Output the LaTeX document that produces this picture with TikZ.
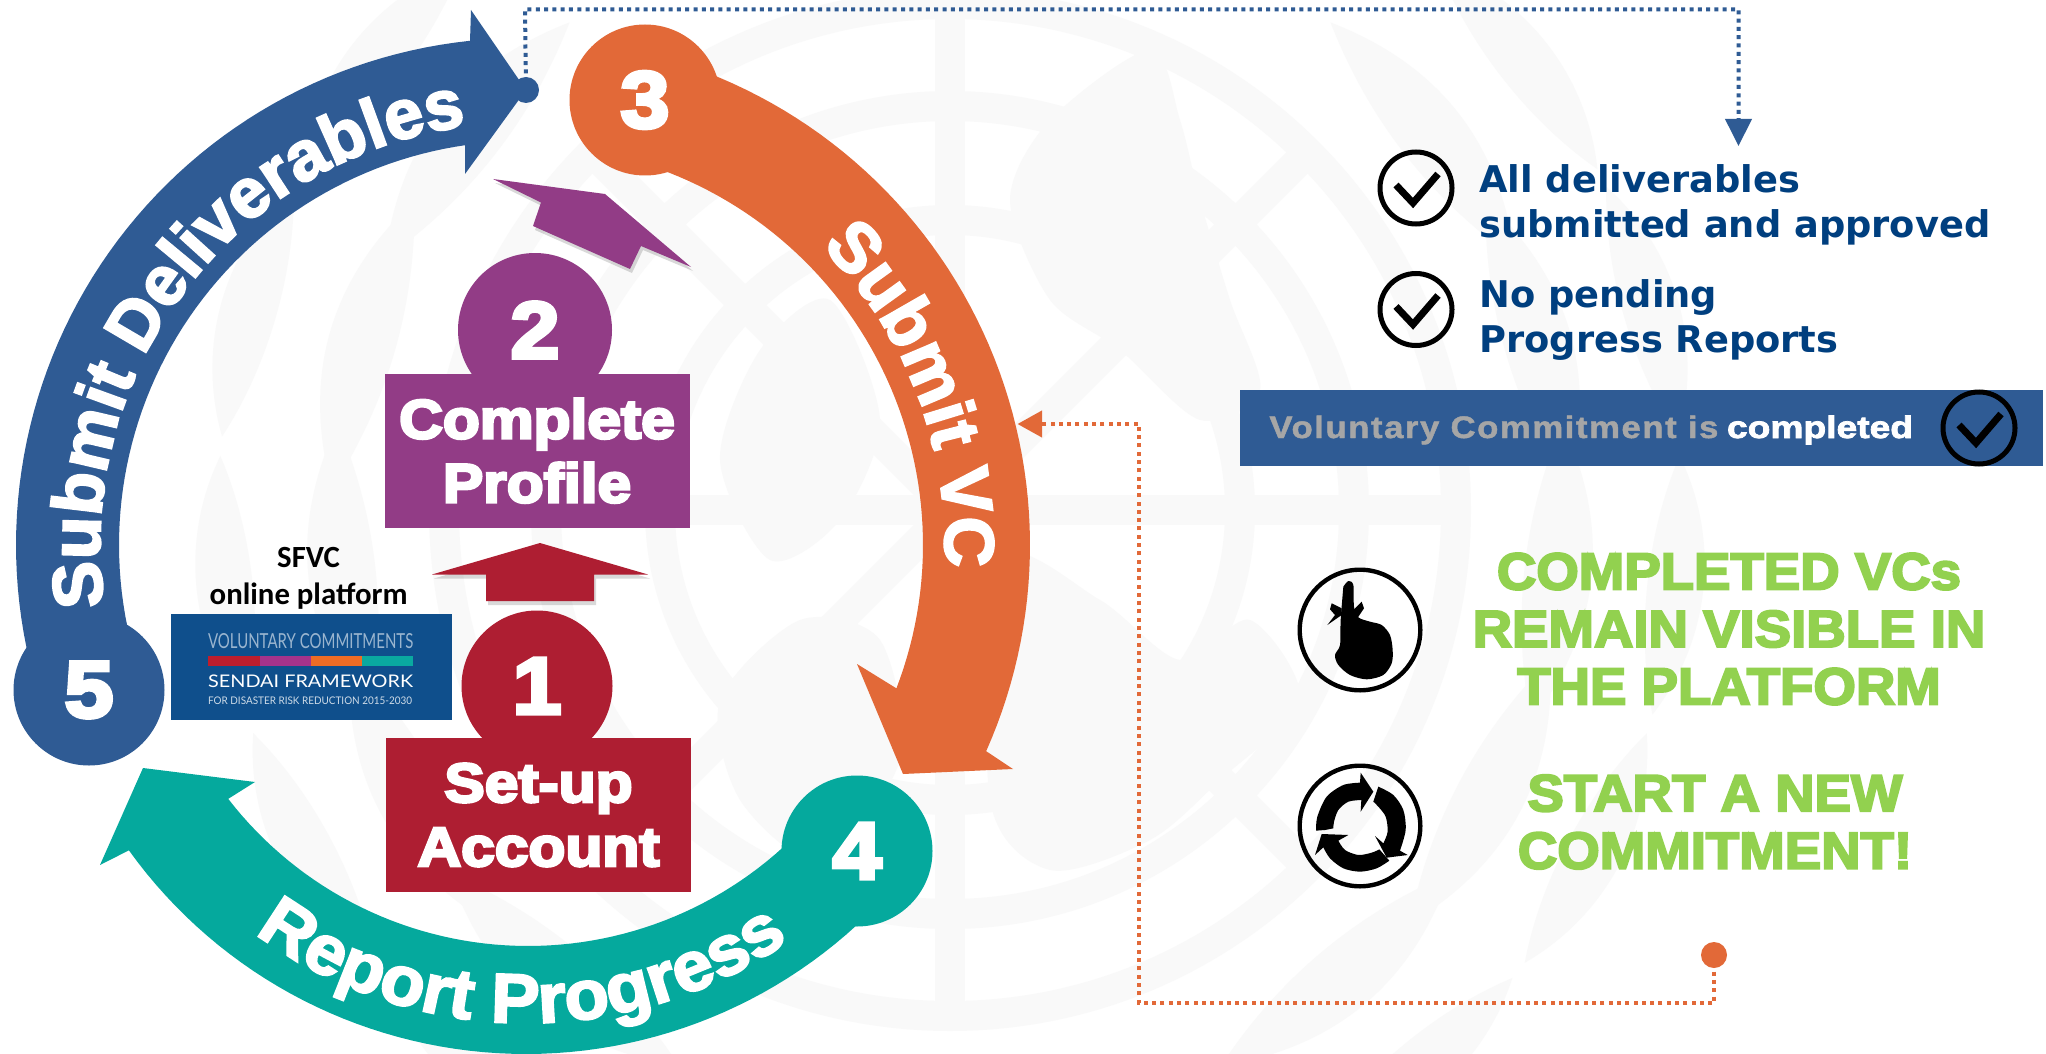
\documentclass[tikz,border=0pt]{standalone}
\usepackage{fontspec}
\usetikzlibrary{decorations.text,arrows.meta,shadows}
\setmainfont{Liberation Sans}
\newfontfamily\fatfont[BoldFeatures={FakeBold=5,FakeStretch=1.1}]{Liberation Sans}
\newfontfamily\arcfont[BoldFeatures={FakeBold=3}]{Liberation Sans}
\newfontfamily\arcwide[BoldFeatures={FakeBold=3,FakeStretch=1.04}]{Liberation Sans}
\newfontfamily\greenfont[BoldFeatures={FakeBold=4,FakeStretch=1.05}]{Liberation Sans}
\newfontfamily\grayfont[BoldFeatures={FakeBold=1.5,FakeStretch=1.12,LetterSpace=5}]{Liberation Sans}
\newfontfamily\compfont[BoldFeatures={FakeBold=2.5,FakeStretch=1.2}]{Liberation Sans}
\newfontfamily\dejafont{DejaVu Sans}
\newfontfamily\carfont{Carlito}
\newfontfamily\latofont{Lato}
\definecolor{bluec}{HTML}{2F5B94}
\definecolor{orangec}{HTML}{E26938}
\definecolor{tealc}{HTML}{05A99D}
\definecolor{redc}{HTML}{AE1E32}
\definecolor{purplec}{HTML}{923C86}
\definecolor{navyc}{HTML}{003F7F}
\definecolor{greenc}{HTML}{92D14F}
\definecolor{grayc}{HTML}{A6A6A6}
\definecolor{wmc}{HTML}{F9F9F9}
\definecolor{logoc}{HTML}{0F4F8C}
\definecolor{stripea}{HTML}{BE1E2D}
\definecolor{stripeb}{HTML}{A6338B}
\definecolor{stripec}{HTML}{EE6C25}
\definecolor{striped}{HTML}{0AA9A0}
\tikzset{
  numcirc/.style={circle,inner sep=0pt,minimum size=75.5pt,text=white,font=\fatfont\bfseries\fontsize{40}{40}\selectfont},
  stepbox/.style={rectangle,inner sep=0pt,minimum width=152.5pt,minimum height=77pt,align=center,text=white,font=\fatfont\bfseries\fontsize{27.5}{32}\selectfont},
  dotline/.style={line width=2pt,dash pattern=on 2pt off 2.15pt},
  ring/.style={draw=black,circle,inner sep=0pt,minimum size=36pt,line width=2.5pt},
  iconring/.style={draw=black,line width=2.2pt,circle,inner sep=0pt,minimum size=60.3pt},
  wmring/.style={draw=wmc,line width=15pt},
  softshadow/.style={drop shadow={shadow xshift=1pt,shadow yshift=-2pt,opacity=.15,fill=black}},
  listtext/.style={anchor=base west,inner sep=0pt,align=left,text=navyc,font=\dejafont\bfseries\fontsize{18.4}{22.25}\selectfont},
  greentext/.style={inner sep=0pt,align=center,text=greenc,font=\greenfont\bfseries\fontsize{26}{28.75}\selectfont},
  arctext/.style={decorate,decoration={text along path,text align=center,text={#1}}},
}
\newcommand{\tickmark}[1]{\draw[line width=3.5pt] (#1)+(-20,-3) -- +(-3,15) -- +(22,-14);}
\begin{document}
\begin{tikzpicture}[x=0.5pt,y=-0.5pt]
\useasboundingbox (0,0) rectangle (2046,1054);
\fill[white] (0,0) rectangle (2046,1054);
% faint emblem
\begin{scope}
\clip (0,0) rectangle (2046,1054);
\foreach \r in {253,202,145} \draw[wmring] (950,510) circle[radius=\r pt];
\foreach \a in {0,45,...,315} \draw[draw=wmc,line width=15pt] (950,510) -- ++(\a:505);
\fill[wmc] plot[smooth cycle] coordinates {(1150,50)(1180,120)(1200,200)(1230,300)(1260,390)(1200,420)(1120,350)(1050,300)(1010,200)(1050,120)};
\fill[wmc] plot[smooth cycle] coordinates {(1000,560)(1100,600)(1180,660)(1250,620)(1300,700)(1220,780)(1150,840)(1050,870)(990,800)};
\fill[wmc] plot[smooth cycle] coordinates {(760,350)(830,300)(880,420)(840,520)(770,560)(720,460)};
\fill[wmc] plot[smooth cycle] coordinates {(800,620)(880,640)(900,760)(820,860)(740,800)(720,700)};
\foreach \a in {-50,-28,-6,16,38,142,164,186,208,230} {
  \begin{scope}[shift={(950,510)},rotate=\a]
    \fill[wmc] (600,-150) .. controls (660,-50) and (660,50) .. (600,150) .. controls (570,50) and (570,-50) .. (600,-150);
    \fill[wmc] (720,-130) .. controls (770,-50) and (770,50) .. (720,130) .. controls (695,50) and (695,-50) .. (720,-130);
  \end{scope}
}
\end{scope}
% band 5
\fill[bluec] plot[domain=165:264,samples=60] ({523+507*cos(\x)},{545+507*sin(\x)}) -- (471,10) -- (526,90) -- (465,174) -- (465,145) -- plot[domain=0:1,samples=60] ({523+404*cos(262-97*\x)},{545+404*sin(262-97*\x)}) -- cycle;
\node[numcirc,fill=bluec] (c5) at (89,690) {5};
% band 3
\fill[orangec] plot[domain=-72:24,samples=60] ({523+507*cos(\x)},{545+507*sin(\x)}) -- (1013,769) -- (903,774) -- (857,664) -- (891,685) -- plot[domain=0:1,samples=60] ({523+400*cos(21-93*\x)},{545+400*sin(21-93*\x)}) -- cycle;
\node[numcirc,fill=orangec] (c3) at (645,100) {3};
% band 4
\fill[tealc] plot[domain=44:144.3,samples=60] ({526+489*cos(\x)},{565+489*sin(\x)}) -- (100,865) -- (143,768) -- (255,782) -- (228,799) -- plot[domain=0:1,samples=60] ({528+379*cos(142.3-96.3*\x)},{567+379*sin(142.3-96.3*\x)}) -- cycle;
\node[numcirc,fill=tealc] (c4) at (857,851) {4};
% band texts
\path[arctext={|\arcfont\bfseries\fontsize{35}{35}\selectfont\color{white}|Submit Deliverables}] plot[domain=165:269,samples=80] ({523+423*cos(\x)},{545+423*sin(\x)});
\path[arctext={|\arcfont\bfseries\fontsize{35}{35}\selectfont\color{white}|Submit VC}] plot[domain=-50:8,samples=60] ({523+422*cos(\x)},{545+422*sin(\x)});
\path[arctext={|\arcwide\bfseries\fontsize{35}{35}\selectfont\color{white}|Report Progress}] plot[domain=0:1,samples=80] ({527+457*cos(132-82.5*\x)},{566+457*sin(132-82.5*\x)});
% steps
\node[numcirc,fill=purplec,minimum size=77pt] (c2) at (535,330) {2};
\node[stepbox,fill=purplec] (s2) at (537,450.7) {Complete\\Profile};
\node[numcirc,fill=redc] (c1) at (537,686) {1};
\node[stepbox,fill=redc] (s1) at (538.5,815) {Set-up\\Account};
\fill[redc,softshadow] (540,543) -- (648,574.5) -- (594,574.5) -- (594,601) -- (486,601) -- (486,574.5) -- (432,574.5) -- cycle;
\fill[purplec,softshadow] (605,194) -- (691,267) -- (641,246) -- (630,269) -- (533,226) -- (541,202.5) -- (493,179) -- cycle;
% platform logo
\node[inner sep=0pt,minimum width=140.35pt,minimum height=53pt,fill=logoc] (logo) at (311.35,667) {};
\node[anchor=base,inner sep=0pt,align=center,font=\carfont\bfseries\fontsize{15.4}{18.2}\selectfont] (sfvc) at (308.6,604) {SFVC\\online platform};
\node[anchor=base west,inner sep=0pt,text=white!58!logoc] (lt1) at (207.7,648.3) {\resizebox{102.6pt}{7.5pt}{\latofont VOLUNTARY COMMITMENTS}};
\fill[stripea] (208,656) rectangle (260,666);
\fill[stripeb] (260,656) rectangle (311,666);
\fill[stripec] (311,656) rectangle (361.5,666);
\fill[striped] (361.5,656) rectangle (413,666);
\node[anchor=base west,inner sep=0pt,text=white] (lt2) at (207.7,687.7) {\resizebox{102.5pt}{6.3pt}{\latofont SENDAI FRAMEWORK}};
\node[anchor=base west,inner sep=0pt,text=white!80!logoc] (lt3) at (207.7,704.3) {\resizebox{102pt}{3.8pt}{\latofont FOR DISASTER RISK REDUCTION 2015-2030}};
% list
\node[ring] (k1) at (1416,188) {}; \tickmark{k1}
\node[ring] (k2) at (1416,309.5) {}; \tickmark{k2}
\node[listtext] (t1) at (1479,237) {All deliverables\\submitted and approved};
\node[listtext] (t2) at (1479,352) {No pending\\Progress Reports};
% bar
\node[inner sep=0pt,minimum width=401.5pt,minimum height=38pt,fill=bluec] (bar) at (1641.5,428) {};
\node[anchor=base west,inner sep=0pt,font=\fontsize{15.5}{18}\selectfont] (bartext) at (1269,438) {{\grayfont\bfseries\color{grayc}Voluntary Commitment is} {\compfont\bfseries\color{white}completed}};
\node[ring] (k3) at (1979,428) {}; \tickmark{k3}
% green
\node[greentext] (g1) at (1729,629) {COMPLETED VCs\\REMAIN VISIBLE IN\\THE PLATFORM};
\node[greentext] (g2) at (1715,822) {START A NEW\\COMMITMENT!};
% hand icon
\node[iconring] (hand) at (1360,630) {};
\begin{scope}[shift={(1290,560)},scale=1/3]
\fill[black] plot[smooth,tension=.5] coordinates {(160,80)(175,63)(190,75)(192,140)(205,172)(240,185)(275,195)(300,225)(308,270)(305,310)(280,345)(230,358)(180,345)(145,315)(135,285)(150,255)(152,180)(160,80)};
\fill[black] (155,145) -- (125,130) -- (120,148) -- (135,165) -- (112,195) -- (155,165) -- cycle;
\fill[black] (190,150) -- (215,125) -- (222,145) -- (200,178) -- cycle;
\end{scope}
% renew icon
\node[iconring] (renew) at (1360,826) {};
\begin{scope}[shift={(1290,760)},scale=1/3]
\fill[black] plot[smooth] coordinates {(78,212)(82,170)(110,110)(160,75)(210,68)} -- (212,38) -- (250,95) -- (212,155) -- (214,120) -- plot[smooth] coordinates {(214,120)(175,125)(145,150)(132,185)(130,205)} -- (105,210) -- cycle;
\fill[black] plot[smooth] coordinates {(265,80)(310,105)(340,150)(347,210)(330,272)} -- (353,285) -- (290,293) -- (255,228) -- (280,250) -- plot[smooth] coordinates {(280,250)(293,215)(287,170)(265,140)(250,125)} -- cycle;
\fill[black] plot[smooth] coordinates {(298,302)(260,325)(210,335)(160,325)(120,295)(100,262)} -- (75,285) -- (95,222) -- (175,225) -- (145,242) -- plot[smooth] coordinates {(145,242)(165,270)(205,285)(245,278)(268,268)} -- cycle;
\end{scope}
% connectors
\node[circle,fill=bluec,inner sep=0pt,minimum size=13pt] (dotb) at (526,90) {};
\node[circle,fill=orangec,inner sep=0pt,minimum size=13pt] (doto) at (1714,955) {};
\coordinate (b1) at (525,9.5);
\coordinate (b2) at (1738.5,9.5);
\coordinate (b3) at (1738.5,146);
\coordinate (o1) at (1714,1003);
\coordinate (o2) at (1139,1003);
\coordinate (o3) at (1139,424);
\coordinate (o4) at (1017.5,424);
\draw[dotline,draw=bluec,-{Triangle[length=13.5pt,width=13pt,fill=bluec]}] (dotb.center) -- (b1) -- (b2) -- (b3);
\draw[dotline,draw=orangec,-{Triangle[length=12.25pt,width=13pt,fill=orangec]}] (doto.center) -- (o1) -- (o2) -- (o3) -- (o4);
\end{tikzpicture}
\end{document}
